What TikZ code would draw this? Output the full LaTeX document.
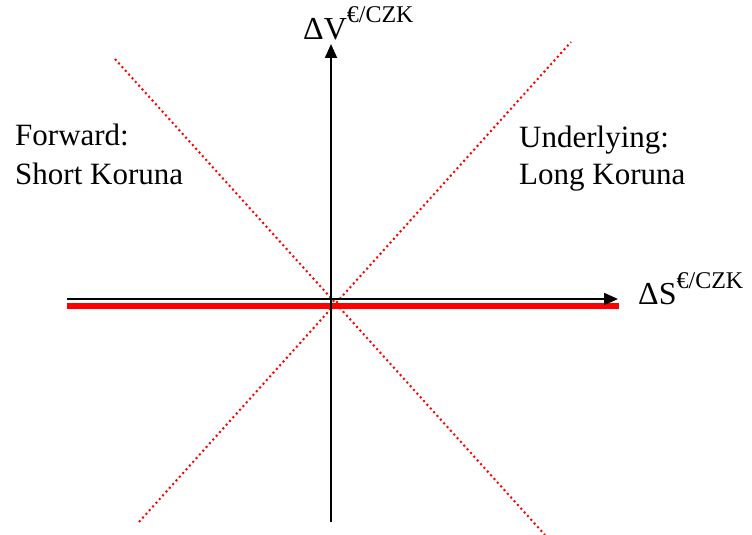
\documentclass[tikz,border=0pt]{standalone}
\usepackage{fontspec}
\setmainfont{Liberation Serif}
\usetikzlibrary{arrows.meta}
\begin{document}
\begin{tikzpicture}[x=1pt,y=-1pt,
  axis/.style={line width=2pt,-{Triangle[length=14pt,width=12pt]}},
  payoff/.style={red,line width=2pt,dash pattern=on 2pt off 3pt},
  lbl/.style={anchor=base west,inner sep=0pt,font=\fontsize{31}{38}\selectfont,align=left},
  axlbl/.style={anchor=base west,inner sep=0pt,font=\fontsize{32}{38}\selectfont}]
\useasboundingbox (0,0) rectangle (752,535);
% coordinates
\coordinate (hL) at (67,299);
\coordinate (hR) at (618,299);
\coordinate (rL) at (67,306);
\coordinate (rR) at (619,306);
\coordinate (vB) at (331,522);
\coordinate (vT) at (331,44);
\coordinate (d1a) at (139,522);
\coordinate (d1b) at (571,42);
\coordinate (d2a) at (115,59);
\coordinate (d2b) at (545,535);
% dotted payoff lines
\draw[payoff] (d1a) -- (d1b);
\draw[payoff] (d2a) -- (d2b);
% red thick line
\draw[red,line width=6pt] (rL) -- (rR);
% axes
\draw[axis] (hL) -- (hR);
\draw[axis] (vB) -- (vT);
% labels
\node[axlbl] (yl) at (303,40) {ΔV\raisebox{17pt}{\fontsize{24}{28}\selectfont €/CZK}};
\node[axlbl] (xl) at (638,304) {ΔS\raisebox{16pt}{\fontsize{24}{28}\selectfont €/CZK}};
\node[lbl] (fw1) at (15,145) {Forward:};
\node[lbl] (fw2) at (15,184) {Short Koruna};
\node[lbl] (ul1) at (519,147) {Underlying:};
\node[lbl] (ul2) at (519,184) {Long Koruna};
\end{tikzpicture}
\end{document}
